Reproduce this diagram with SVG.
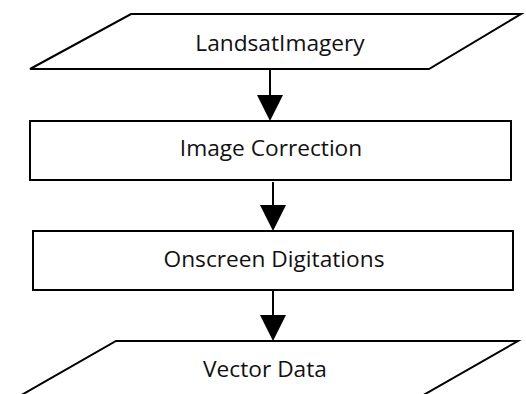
<svg xmlns="http://www.w3.org/2000/svg" width="526" height="394" viewBox="0 0 526 394">
<defs>
<style>
.shape{fill:#fff;stroke:#000;stroke-width:2}
.lbl{font-family:"Open Sans","Liberation Sans",sans-serif;font-size:22.7px;fill:#111;text-anchor:middle}
.conn{stroke:#000;stroke-width:2;fill:none}
.head{fill:#000}
</style>
</defs>
<rect width="526" height="394" fill="#fff"/>
<g id="n1">
<polygon class="shape" points="131,14 521,14 429,69 30,69"/>
<text class="lbl" x="280" y="51">LandsatImagery</text>
</g>
<g id="n2">
<rect class="shape" x="30" y="121" width="481" height="59"/>
<text class="lbl" x="271" y="156">Image Correction</text>
</g>
<g id="n3">
<rect class="shape" x="33" y="231" width="480" height="59"/>
<text class="lbl" x="274" y="267">Onscreen Digitations</text>
</g>
<g id="n4">
<polygon class="shape" points="116,341 518,341 420,397 18,397"/>
<text class="lbl" x="265" y="377">Vector Data</text>
</g>
<g id="connectors">
<line class="conn" x1="270" y1="69" x2="270" y2="100"/>
<path class="head" d="M257,95 L283,95 L270,121 Z"/>
<line class="conn" x1="273" y1="182" x2="273" y2="210"/>
<path class="head" d="M260,205 L286,205 L273,231 Z"/>
<line class="conn" x1="273" y1="291" x2="273" y2="320"/>
<path class="head" d="M260,315 L286,315 L273,341 Z"/>
</g>
</svg>
